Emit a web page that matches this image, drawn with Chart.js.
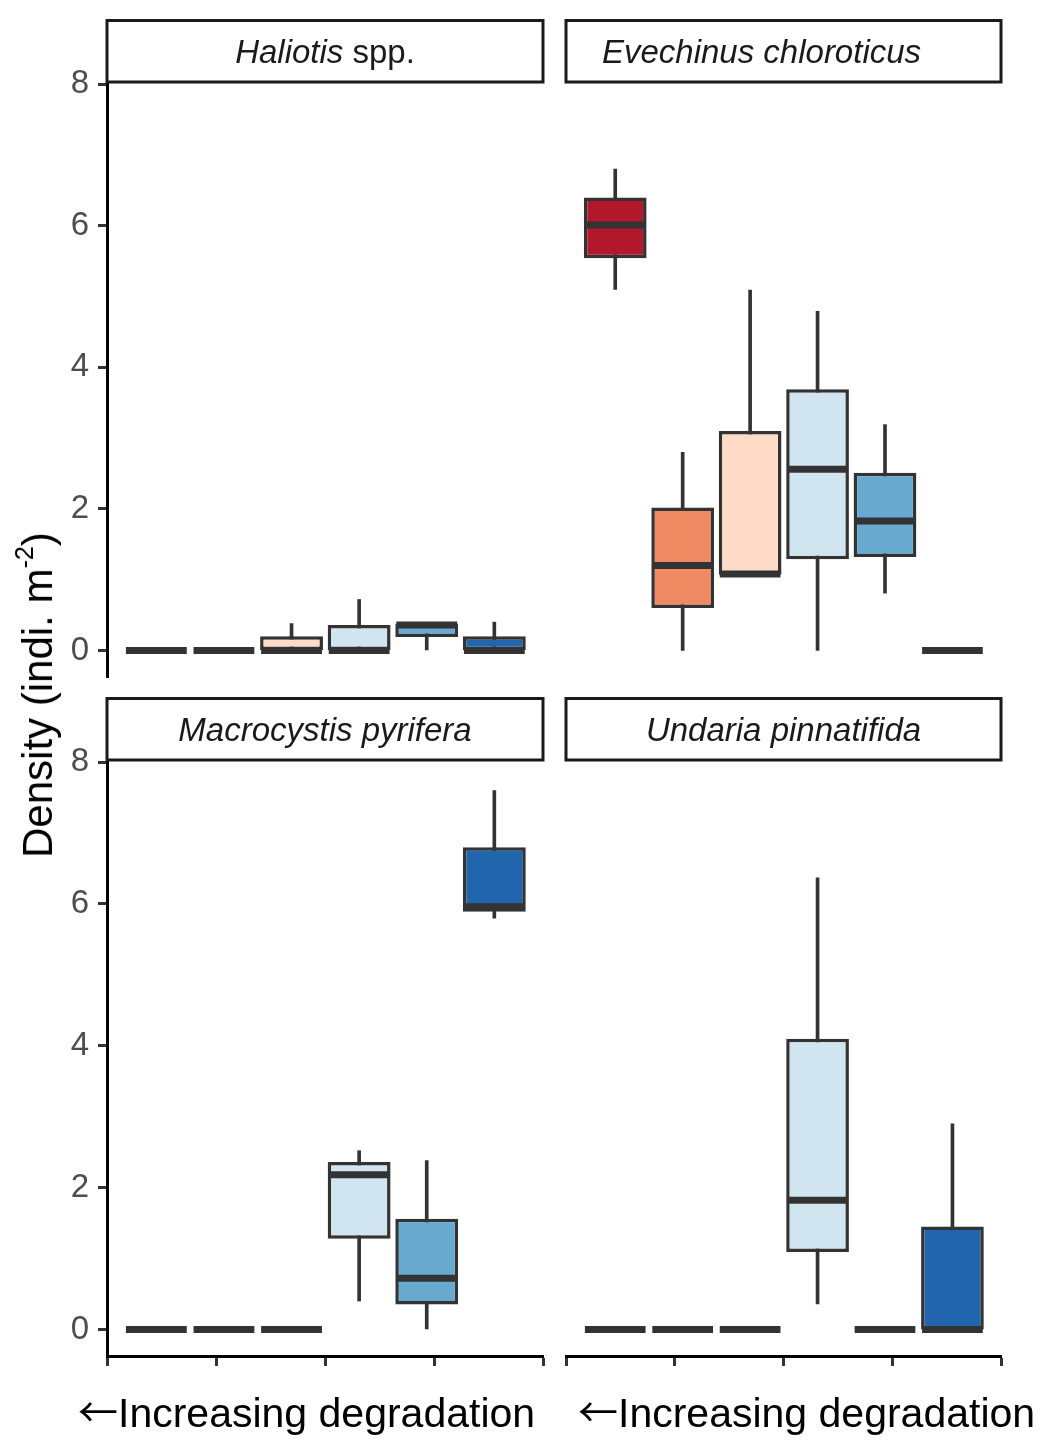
<!DOCTYPE html>
<html>
<head>
<meta charset="utf-8">
<script src="https://cdn.jsdelivr.net/npm/chart.js@4/dist/chart.umd.min.js"></script>
<style>
html,body{margin:0;padding:0;background:#ffffff;width:1044px;height:1440px;overflow:hidden;font-family:"Liberation Sans",Arial,sans-serif;}
canvas{position:absolute;}
.xt{position:absolute;top:1386px;font-size:41px;line-height:48px;color:#000;white-space:nowrap;}
.xt .arr{font-family:"Noto Sans CJK SC","DejaVu Sans",sans-serif;font-size:40px;}
#yt{position:absolute;left:38px;top:695px;transform:translate(-50%,-50%) rotate(-90deg);font-size:42px;line-height:48px;color:#000;white-space:nowrap;}
#yt sup{font-size:0.6em;vertical-align:0.75em;line-height:0;}
</style>
</head>
<body>
<canvas id="tl" width="555" height="720" style="left:0;top:0;"></canvas>
<canvas id="tr" width="489" height="720" style="left:555px;top:0;"></canvas>
<canvas id="bl" width="555" height="750" style="left:0;top:690px;"></canvas>
<canvas id="br" width="489" height="750" style="left:555px;top:690px;"></canvas>
<div id="yt">Density (indi. m<sup>-2</sup>)</div>
<div class="xt" id="xtl" style="left:78px;"></div>
<div class="xt" id="xtr" style="left:578px;"></div>
<script>
// ---- data ----
const positions = [1, 2, 3, 4, 5, 6];
const levelColors = ['#b2182b', '#ef8a62', '#fddbc7', '#d1e5f0', '#67a9cf', '#2166ac'];
const yTicks = [0, 2, 4, 6, 8];
const xTitleArrow = '←';
const xTitleText = 'Increasing degradation';

const haliotisLabel = [['Haliotis', true], [' spp.', false]];
const haliotisMin = [0, 0, 0, 0, 0, 0];
const haliotisQ1  = [0, 0, 0, 0, 0.19, 0];
const haliotisMed = [0, 0, 0, 0, 0.36, 0];
const haliotisQ3  = [0, 0, 0.20, 0.36, 0.38, 0.20];
const haliotisMax = [0, 0, 0.38, 0.72, 0.38, 0.40];

const evechinusLabel = [['Evechinus chloroticus', true]];
const evechinusMin = [5.10, 0, 1.07, 0, 0.81, 0];
const evechinusQ1  = [5.54, 0.60, 1.07, 1.29, 1.32, 0];
const evechinusMed = [6.01, 1.20, 1.08, 2.56, 1.83, 0];
const evechinusQ3  = [6.40, 2.02, 3.10, 3.69, 2.51, 0];
const evechinusMax = [6.80, 2.80, 5.09, 4.79, 3.19, 0];

const macrocystisLabel = [['Macrocystis pyrifera', true]];
const macrocystisMin = [0, 0, 0, 0.40, 0, 5.80];
const macrocystisQ1  = [0, 0, 0, 1.28, 0.35, 5.89];
const macrocystisMed = [0, 0, 0, 2.18, 0.72, 5.96];
const macrocystisQ3  = [0, 0, 0, 2.36, 1.56, 6.80];
const macrocystisMax = [0, 0, 0, 2.52, 2.38, 7.60];

const undariaLabel = [['Undaria pinnatifida', true]];
const undariaMin = [0, 0, 0, 0.36, 0, 0];
const undariaQ1  = [0, 0, 0, 1.09, 0, 0];
const undariaMed = [0, 0, 0, 1.82, 0, 0];
const undariaQ3  = [0, 0, 0, 4.10, 0, 1.45];
const undariaMax = [0, 0, 0, 6.37, 0, 2.90];

// ---- styling / layout ----
const FONT = '"Liberation Sans", Arial, sans-serif';
const DARK = '#333333';
const X_MIN = 0.27, X_MAX = 6.72, Y_MIN = -0.375, Y_MAX = 8.03;
const BOX_HALF = 0.45;

['xtl', 'xtr'].forEach(id => {
  const el = document.getElementById(id);
  const a = document.createElement('span');
  a.className = 'arr';
  a.textContent = xTitleArrow;
  el.appendChild(a);
  el.appendChild(document.createTextNode(xTitleText));
});

const stripPlugin = {
  id: 'strip',
  afterDraw(chart, args, opts) {
    const { ctx, chartArea: a } = chart;
    const h = 61.5, top = a.top - h;
    ctx.save();
    ctx.fillStyle = '#ffffff';
    ctx.fillRect(a.left, top, a.right - a.left, h);
    ctx.lineWidth = 3;
    ctx.strokeStyle = '#1a1a1a';
    ctx.strokeRect(a.left, top, a.right - a.left, h);
    const parts = opts.parts || [];
    const fonts = parts.map(p => (p[1] ? 'italic ' : '') + '33px ' + FONT);
    let total = 0;
    const widths = parts.map((p, i) => { ctx.font = fonts[i]; const w = ctx.measureText(p[0]).width; total += w; return w; });
    let x = (a.left + a.right) / 2 - total / 2 + (opts.offset || 0);
    const y = top + h / 2 + 12;
    ctx.fillStyle = '#1a1a1a';
    ctx.textBaseline = 'alphabetic';
    ctx.textAlign = 'left';
    parts.forEach((p, i) => { ctx.font = fonts[i]; ctx.fillText(p[0], x, y); x += widths[i]; });
    ctx.restore();
  }
};

function halfBox(c) {
  const s = c.chart.scales.x;
  return Math.abs(s.getPixelForValue(1 + BOX_HALF) - s.getPixelForValue(1));
}

function makePanel(id, label, mn, q1, md, q3, mx, cfg) {
  const whisker = positions.map((x, i) => ({ x, y: [mn[i], mx[i]] }));
  const box = positions.map((x, i) => ({ x, y: [q1[i], q3[i]] }));
  const med = positions.map((x, i) => ({ x, y: md[i] }));
  new Chart(document.getElementById(id), {
    type: 'bar',
    data: {
      datasets: [
        { type: 'line', data: med, showLine: false, pointStyle: 'line',
          pointRadius: halfBox, pointHoverRadius: halfBox, pointBorderWidth: 7,
          pointBorderColor: DARK, pointBackgroundColor: DARK, order: 0 },
        { type: 'bar', data: box, backgroundColor: levelColors, borderColor: DARK,
          borderWidth: 3.5, borderSkipped: false, grouped: false,
          barPercentage: 0.93, categoryPercentage: 1, order: 1 },
        { type: 'bar', data: whisker, backgroundColor: DARK, borderWidth: 0,
          grouped: false, barThickness: 3, order: 2 }
      ]
    },
    options: {
      responsive: false,
      animation: false,
      events: [],
      layout: { padding: cfg.pad },
      plugins: {
        legend: { display: false },
        tooltip: { enabled: false },
        strip: { parts: label, offset: cfg.offset || 0 }
      },
      scales: {
        x: {
          type: 'linear', min: X_MIN, max: X_MAX, offset: false, display: cfg.showX,
          grid: { display: true, drawOnChartArea: false, drawTicks: true, tickLength: 10,
                  tickWidth: 3, tickColor: DARK, offset: false },
          border: { display: true, color: '#000000', width: 3 },
          ticks: { display: false },
          afterBuildTicks: s => {
            const t = [];
            for (let k = 0; k <= 4; k++) t.push({ value: X_MIN + (X_MAX - X_MIN) * k / 4 });
            s.ticks = t;
          },
          afterFit: s => { s.height = cfg.showX ? 12 : 0; }
        },
        y: {
          type: 'linear', min: Y_MIN, max: Y_MAX, display: cfg.showY,
          grid: { display: true, drawOnChartArea: false, drawTicks: true, tickLength: 9,
                  tickWidth: 3, tickColor: DARK },
          border: { display: true, color: '#000000', width: 3 },
          ticks: { font: { family: FONT, size: 33 }, color: '#4d4d4d', padding: 9 },
          afterBuildTicks: s => { s.ticks = yTicks.map(v => ({ value: v })); },
          afterFit: s => { s.width = cfg.showY ? 107 : 0; }
        }
      }
    },
    plugins: [stripPlugin]
  });
}

makePanel('tl', haliotisLabel, haliotisMin, haliotisQ1, haliotisMed, haliotisQ3, haliotisMax,
  { pad: { left: 0, top: 82, right: 12, bottom: 43 }, showX: false, showY: true });
makePanel('tr', evechinusLabel, evechinusMin, evechinusQ1, evechinusMed, evechinusQ3, evechinusMax,
  { pad: { left: 11, top: 82, right: 43, bottom: 43 }, showX: false, showY: false, offset: -22 });
makePanel('bl', macrocystisLabel, macrocystisMin, macrocystisQ1, macrocystisMed, macrocystisQ3, macrocystisMax,
  { pad: { left: 0, top: 70, right: 12, bottom: 72 }, showX: true, showY: true });
makePanel('br', undariaLabel, undariaMin, undariaQ1, undariaMed, undariaQ3, undariaMax,
  { pad: { left: 11, top: 70, right: 43, bottom: 72 }, showX: true, showY: false });
</script>
</body>
</html>
